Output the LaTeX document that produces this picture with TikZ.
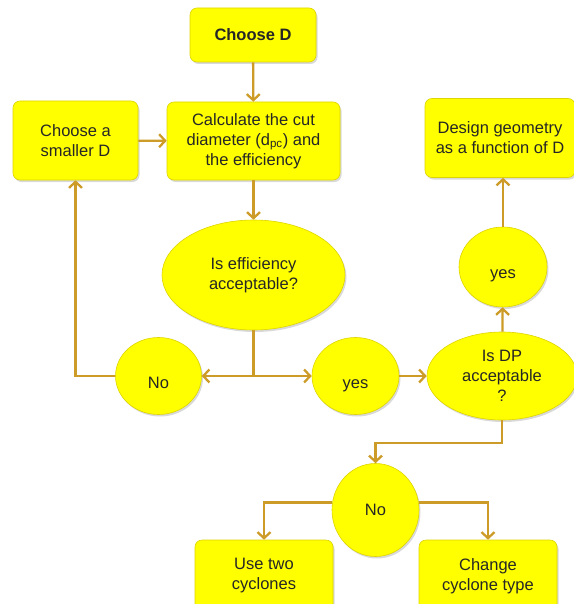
\documentclass[tikz,border=0pt]{standalone}
\usepackage{fontspec}
\setmainfont{Liberation Sans}
\usetikzlibrary{shapes.geometric,arrows.meta,shadows}
\definecolor{ln}{RGB}{205,155,40}
\definecolor{fl}{RGB}{255,255,0}
\definecolor{ed}{RGB}{222,212,0}
\begin{document}
\begin{tikzpicture}[x=1pt,y=-1pt,
 base/.style={fill=fl, draw=ed, line width=0.6pt,
   drop shadow={shadow xshift=1.5pt,shadow yshift=-2pt,opacity=0.3},
   font=\fontsize{16.5}{20}\selectfont, align=center, text=black!85, inner sep=0pt},
 box/.style={base, rounded corners=7pt},
 oval/.style={base, ellipse},
 conn/.style={draw=ln, line width=2.3pt, -{Straight Barb[length=6pt,width=13pt]}},
 plain/.style={draw=ln, line width=2.3pt}]
\useasboundingbox (0,0) rectangle (573,604);
% boxes
\node[box, minimum width=126pt, minimum height=54pt, font=\bfseries\fontsize{16.5}{20}\selectfont] (choose) at (253,35) {Choose D};
\node[box, minimum width=173pt, minimum height=78pt] (calc) at (253.5,141) {Calculate the cut\\diameter (d\textsubscript{pc}) and\\the efficiency};
\node[box, minimum width=125pt, minimum height=79pt] (small) at (75.5,140.5) {Choose a\\smaller D};
\node[box, minimum width=150pt, minimum height=79pt] (design) at (500,138) {Design geometry\\as a function of D};
\node[box, minimum width=138pt, minimum height=72pt] (two) at (264,576) {Use two\\cyclones};
\node[box, minimum width=138pt, minimum height=72pt] (chg) at (488,576) {Change\\cyclone type};
% ovals
\node[oval, minimum width=183pt, minimum height=110pt] (eff) at (253.5,275) {Is efficiency\\acceptable?};
\node[oval, minimum width=86pt, minimum height=77pt] (no) at (158.5,376) {\raisebox{-12pt}[0pt][0pt]{No}};
\node[oval, minimum width=87pt, minimum height=77pt] (yes) at (355.5,376) {\raisebox{-12pt}[0pt][0pt]{yes}};
\node[oval, minimum width=150pt, minimum height=88pt] (dp) at (502,376) {Is DP\\acceptable\\?};
\node[oval, minimum width=88pt, minimum height=80pt] (yes2) at (503,267) {\raisebox{-11pt}[0pt][0pt]{yes}};
\node[oval, minimum width=87pt, minimum height=93pt] (no2) at (375.5,510) {No};
% connectors
\draw[conn] (choose) -- (calc);
\draw[conn] (small) -- (calc);
\draw[conn] (calc) -- (eff);
\coordinate (j) at (eff.south |- no.east);
\draw[plain] (eff.south) -- (j);
\draw[conn] (j) -- (no.east);
\draw[conn] (j) -- (yes.west);
\draw[conn] (no.west) -| (small.south);
\draw[conn] (yes) -- (dp);
\draw[conn] (dp) -- (yes2);
\draw[conn] (yes2.north) -- (yes2.north |- design.south);
\draw[conn] (dp.south) -- ++(0,23) -| (no2.north);
\draw[conn] (no2.170) -| (two.north);
\draw[conn] (no2.10) -| (chg.north);
\end{tikzpicture}
\end{document}
